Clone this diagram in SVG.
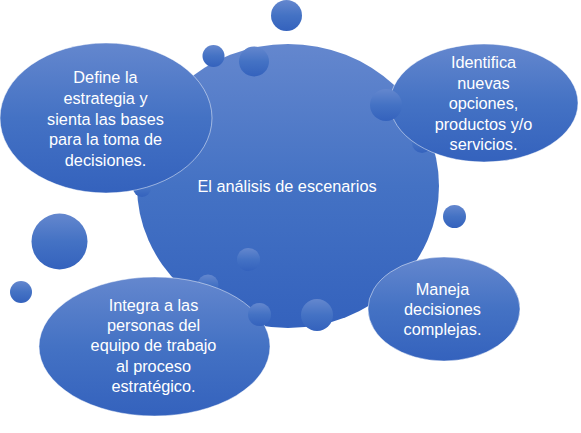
<svg xmlns="http://www.w3.org/2000/svg" width="581" height="433" viewBox="0 0 581 433">
  <defs>
    <linearGradient id="blue" x1="0" y1="0" x2="0" y2="1">
      <stop offset="0" stop-color="#6487ce"/>
      <stop offset="0.5" stop-color="#4472c4"/>
      <stop offset="1" stop-color="#3462bd"/>
    </linearGradient>
  </defs>
  <style>
    .shape { fill: url(#blue); }
    .node { fill: url(#blue); stroke: #ffffff; stroke-opacity: 0.6; stroke-width: 0.8; }
    .dot { fill: url(#blue); }
    text { font-family: "Liberation Sans", Arial, sans-serif; font-size: 16.3px; fill: #ffffff; text-anchor: middle; }
  </style>
  <rect width="581" height="433" fill="#ffffff"/>

  <g id="center">
    <ellipse class="shape" cx="288" cy="186" rx="151" ry="142"/>
  </g>

  <g id="decor-back">
    <circle class="dot" cx="142" cy="188" r="9"/>
    <circle class="dot" cx="422" cy="143" r="10"/>
    <circle class="dot" cx="208" cy="285" r="10.5"/>
  </g>

  <g id="center-label">
    <text x="287" y="192">El análisis de escenarios</text>
  </g>

  <g id="node-define">
    <ellipse class="node" cx="106" cy="118" rx="106" ry="75"/>
    <text x="105.5" y="83">Define la</text>
    <text x="105.5" y="104">estrategia y</text>
    <text x="105.5" y="124.5">sienta las bases</text>
    <text x="105.5" y="145">para la toma de</text>
    <text x="105.5" y="166">decisiones.</text>
  </g>

  <g id="node-identifica">
    <ellipse class="node" cx="484" cy="103" rx="94" ry="59"/>
    <text x="483.5" y="68">Identifica</text>
    <text x="483.5" y="88.5">nuevas</text>
    <text x="483.5" y="109">opciones,</text>
    <text x="483.5" y="129.5">productos y/o</text>
    <text x="483.5" y="150">servicios.</text>
  </g>

  <g id="node-maneja">
    <ellipse class="node" cx="444" cy="309" rx="76" ry="52"/>
    <text x="442.5" y="295">Maneja</text>
    <text x="442.5" y="315">decisiones</text>
    <text x="442.5" y="335">complejas.</text>
  </g>

  <g id="node-integra">
    <ellipse class="node" cx="154.5" cy="346.5" rx="115.5" ry="69.5"/>
    <text x="153.5" y="311">Integra a las</text>
    <text x="153.5" y="331">personas del</text>
    <text x="153.5" y="351">equipo de trabajo</text>
    <text x="153.5" y="372">al proceso</text>
    <text x="153.5" y="392">estratégico.</text>
  </g>

  <g id="decor-front">
    <circle class="dot" cx="286.5" cy="15.5" r="15.5"/>
    <circle class="dot" cx="213.5" cy="56" r="11"/>
    <circle class="dot" cx="254" cy="61.5" r="15"/>
    <circle class="dot" cx="386" cy="105" r="16"/>
    <circle class="dot" cx="454.5" cy="216.5" r="11.5"/>
    <circle class="dot" cx="59.5" cy="241.5" r="28"/>
    <circle class="dot" cx="21" cy="292" r="11"/>
    <circle class="dot" cx="248.5" cy="259.5" r="11.5"/>
    <circle class="dot" cx="259.5" cy="314.5" r="11.5"/>
    <circle class="dot" cx="317" cy="315" r="16"/>
  </g>
</svg>
